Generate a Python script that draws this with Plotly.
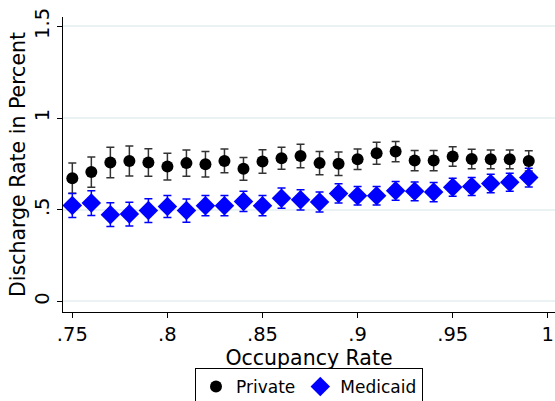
import plotly.graph_objects as go

occupancy = [0.75, 0.76, 0.77, 0.78, 0.79, 0.80, 0.81, 0.82, 0.83, 0.84, 0.85, 0.86, 0.87,
             0.88, 0.89, 0.90, 0.91, 0.92, 0.93, 0.94, 0.95, 0.96, 0.97, 0.98, 0.99]
private = [0.672, 0.705, 0.757, 0.766, 0.757, 0.735, 0.754, 0.748, 0.766, 0.723, 0.763, 0.781, 0.793,
           0.754, 0.750, 0.775, 0.808, 0.817, 0.768, 0.768, 0.790, 0.777, 0.775, 0.775, 0.766]
private_err = [0.082, 0.082, 0.083, 0.082, 0.075, 0.073, 0.072, 0.069, 0.065, 0.062, 0.064, 0.060, 0.064,
               0.063, 0.064, 0.056, 0.060, 0.055, 0.055, 0.055, 0.053, 0.053, 0.051, 0.051, 0.055]
medicaid = [0.523, 0.536, 0.473, 0.476, 0.495, 0.518, 0.495, 0.522, 0.522, 0.545, 0.522, 0.563, 0.554,
            0.542, 0.589, 0.576, 0.576, 0.603, 0.600, 0.596, 0.623, 0.627, 0.643, 0.650, 0.675]
medicaid_err = [0.066, 0.068, 0.065, 0.065, 0.065, 0.060, 0.064, 0.055, 0.055, 0.055, 0.055, 0.055, 0.055,
                0.055, 0.053, 0.051, 0.051, 0.051, 0.051, 0.052, 0.049, 0.049, 0.051, 0.049, 0.051]

x_ticks = [0.75, 0.80, 0.85, 0.90, 0.95, 1.0]
x_ticklabels = [".75", ".8", ".85", ".9", ".95", "1"]
y_ticks = [0, 0.5, 1, 1.5]
y_ticklabels = ["0", ".5", "1", "1.5"]

FAM = "DejaVu Sans"

fig = go.Figure()
fig.add_trace(go.Scatter(
    x=occupancy, y=private, mode="markers", name="Private",
    marker=dict(symbol="circle", size=12, color="black"),
    error_y=dict(type="data", array=private_err, visible=True, color="#333333",
                 thickness=1.5, width=4),
))
fig.add_trace(go.Scatter(
    x=occupancy, y=medicaid, mode="markers", name="Medicaid",
    marker=dict(symbol="diamond", size=15, color="#0000ff"),
    error_y=dict(type="data", array=medicaid_err, visible=True, color="#0000ff",
                 thickness=1.5, width=4),
))

fig.update_layout(
    template="none",
    width=555, height=401,
    margin=dict(l=63, r=0, t=17, b=89, pad=0, autoexpand=False),
    paper_bgcolor="white", plot_bgcolor="white",
    font=dict(family=FAM, size=17, color="black"),
    showlegend=True,
    legend=dict(
        orientation="h", x=0.5, xanchor="center", y=-0.19, yanchor="top",
        bordercolor="black", borderwidth=1, bgcolor="white",
        font=dict(family=FAM, size=17, color="black"),
        itemwidth=30, tracegroupgap=0,
    ),
    xaxis=dict(
        range=[0.7451, 1.0038], tickmode="array", tickvals=x_ticks, ticktext=x_ticklabels,
        showgrid=False, zeroline=False, showline=True, linecolor="black", linewidth=1,
        ticks="outside", ticklen=5, tickcolor="black", tickwidth=1, automargin=False,
        ticklabeloverflow="allow",
        title=dict(text="Occupancy Rate", standoff=0, font=dict(family=FAM, size=20.5, color="black")),
        tickfont=dict(family=FAM, size=19.5, color="black"),
    ),
    yaxis=dict(
        range=[-0.058, 1.551], tickmode="array", tickvals=y_ticks, ticktext=y_ticklabels,
        showgrid=True, gridcolor="#eaf2f3", gridwidth=1.5, zeroline=False,
        showline=True, linecolor="black", linewidth=1, automargin=False,
        ticks="outside", ticklen=5, tickcolor="black", tickwidth=1, tickangle=-90,
        ticklabeloverflow="allow",
        title=dict(text="Discharge Rate in Percent", standoff=0, font=dict(family=FAM, size=20.5, color="black")),
        tickfont=dict(family=FAM, size=19.5, color="black"),
    ),
)

fig.write_html("out.html", config={"displayModeBar": False},
               post_script="document.body.style.margin='0';document.body.style.padding='0';")
